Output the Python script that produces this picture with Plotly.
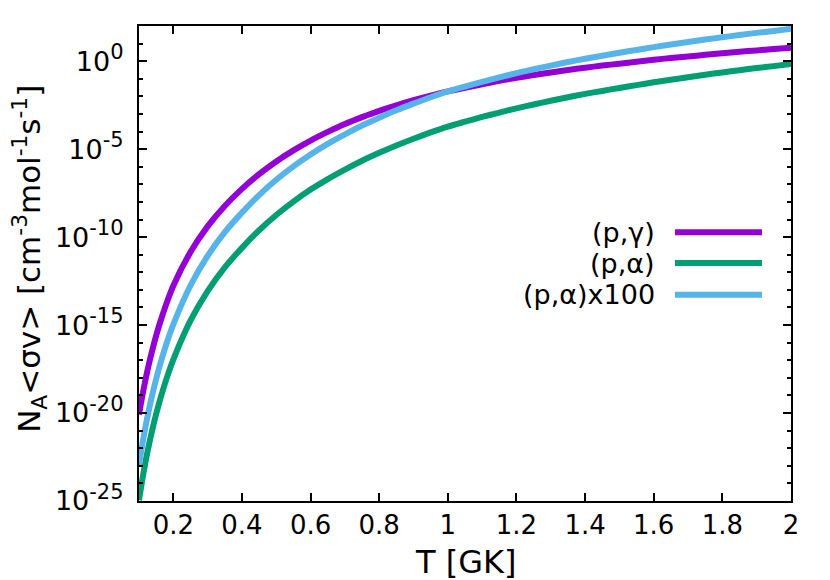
import plotly.graph_objects as go

# Temperature grid (GK)
T = [0.10, 0.11, 0.12, 0.13, 0.14, 0.15, 0.16, 0.18, 0.20, 0.25,
     0.30, 0.35, 0.40, 0.45, 0.50, 0.55, 0.60, 0.65, 0.70, 0.75,
     0.80, 0.85, 0.90, 0.95, 1.00, 1.05, 1.10, 1.15, 1.20, 1.25,
     1.30, 1.35, 1.40, 1.45, 1.50, 1.55, 1.60, 1.65, 1.70, 1.75,
     1.80, 1.85, 1.90, 1.95, 2.00]

# log10 of N_A<sigma v>
log_pg = [-20.09, -18.99, -18.0, -17.12, -16.33, -15.60, -14.94, -13.77, -12.76, -10.85,
          -9.39, -8.23, -7.26, -6.42, -5.70, -5.07, -4.51, -4.02, -3.57, -3.18,
          -2.82, -2.51, -2.22, -1.96, -1.72, -1.51, -1.31, -1.12, -0.94, -0.79,
          -0.64, -0.50, -0.37, -0.25, -0.14, -0.03, 0.08, 0.18, 0.27, 0.36,
          0.45, 0.54, 0.61, 0.69, 0.76]
log_pa = [-24.96, -23.75, -22.67, -21.71, -20.85, -20.06, -19.34, -18.06, -16.96, -14.75,
          -13.07, -11.72, -10.61, -9.61, -8.74, -7.98, -7.30, -6.70, -6.16, -5.66,
          -5.21, -4.79, -4.41, -4.05, -3.72, -3.44, -3.17, -2.92, -2.68, -2.46,
          -2.25, -2.05, -1.86, -1.69, -1.52, -1.36, -1.20, -1.05, -0.91, -0.77,
          -0.64, -0.51, -0.39, -0.28, -0.16]
log_pa100 = [-22.96, -21.75, -20.67, -19.71, -18.85, -18.06, -17.34, -16.06, -14.96, -12.75,
             -11.07, -9.72, -8.61, -7.61, -6.74, -5.98, -5.30, -4.70, -4.16, -3.66,
             -3.21, -2.79, -2.41, -2.05, -1.72, -1.44, -1.17, -0.92, -0.68, -0.46,
             -0.25, -0.05, 0.14, 0.31, 0.48, 0.64, 0.80, 0.95, 1.09, 1.23,
             1.36, 1.49, 1.61, 1.72, 1.84]

series_names = ["(p,γ)", "(p,α)", "(p,α)x100"]
series_colors = ["#9400D3", "#009E73", "#56B4E9"]

x_ticks = [0.2, 0.4, 0.6, 0.8, 1.0, 1.2, 1.4, 1.6, 1.8, 2.0]
y_major_exp = [-25, -20, -15, -10, -5, 0]
y_minor_exp = [e for e in range(-24, 3) if e not in y_major_exp]

FONT = "DejaVu Sans"

fig = go.Figure()
for name, vals, color in zip(series_names, [log_pg, log_pa, log_pa100], series_colors):
    fig.add_trace(go.Scatter(
        x=T, y=[10 ** v for v in vals], mode="lines", name=name,
        line=dict(color=color, width=6, shape="spline", smoothing=0.8),
        showlegend=False,
    ))

# page body has an 8px default margin, so the figure is 8px smaller
fig.update_layout(
    width=822, height=572, autosize=False,
    margin=dict(l=131, r=39, t=18, b=79),
    paper_bgcolor="white", plot_bgcolor="white",
    font=dict(family=FONT, color="black"),
)

fig.update_xaxes(
    range=[0.1, 2.0], tickvals=x_ticks,
    ticktext=[("%g" % v) for v in x_ticks],
    ticks="inside", ticklen=8, tickwidth=2, tickcolor="black",
    showline=True, linecolor="black", linewidth=2, mirror="ticks",
    showgrid=False, zeroline=False, automargin=False,
    tickfont=dict(size=26, family=FONT),
    ticklabelstandoff=0,
)

fig.update_yaxes(
    type="log", range=[-25, 2],
    tickvals=[10.0 ** e for e in y_major_exp],
    ticktext=["10<sup><span style='font-size:21px'>%d</span></sup>" % e for e in y_major_exp],
    ticks="inside", ticklen=8, tickwidth=2, tickcolor="black",
    minor=dict(tickvals=[10.0 ** e for e in y_minor_exp], ticks="inside",
               ticklen=4, tickwidth=2, tickcolor="black", showgrid=False),
    showline=True, linecolor="black", linewidth=2, mirror="ticks",
    showgrid=False, zeroline=False, automargin=False,
    tickfont=dict(size=27, family=FONT),
    ticklabelstandoff=8,
)

# axis titles
fig.add_annotation(
    text="N<sub>A</sub>&lt;σv&gt; [cm<sup>-3</sup>mol<sup>-1</sup>s<sup>-1</sup>]",
    xref="paper", yref="paper", x=-0.167, y=0.51, xanchor="center", yanchor="middle",
    textangle=-90, showarrow=False, font=dict(size=31, family=FONT),
)
fig.add_annotation(
    text="T [GK]", xref="paper", yref="paper", x=0.5, y=-0.128,
    xanchor="center", yanchor="middle", showarrow=False,
    font=dict(size=32, family=FONT),
)

# legend (text on the left, line sample on the right)
leg_y = [0.566, 0.501, 0.434]
for name, color, yy in zip(series_names, series_colors, leg_y):
    fig.add_annotation(text=name, xref="paper", yref="paper", x=0.7945, y=yy,
                       xanchor="right", yanchor="middle", showarrow=False,
                       font=dict(size=27, family=FONT))
    fig.add_shape(type="line", xref="paper", yref="paper", x0=0.822, x1=0.9555,
                  y0=yy, y1=yy, line=dict(color=color, width=6))

fig.write_html("out.html")
